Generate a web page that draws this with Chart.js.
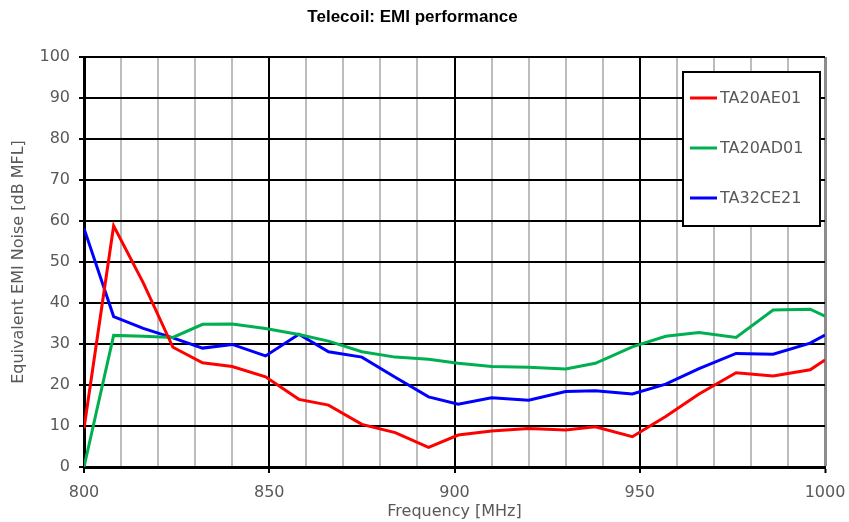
<!DOCTYPE html>
<html>
<head>
<meta charset="utf-8">
<script src="https://cdn.jsdelivr.net/npm/chart.js@4"></script>
<style>
  html, body { margin: 0; padding: 0; background: #fff; }
  #wrap { width: 849px; height: 522px; position: relative; }
</style>
</head>
<body>
<div id="wrap"><canvas id="myChart"></canvas></div>
<script>
// frequencies (MHz) where the curves were sampled
const freqs = [800, 808, 816, 824, 832, 840, 849, 858, 866, 875, 884, 893, 901, 910, 920, 930, 938, 948, 957, 966, 976, 986, 996, 1000];

const ta20ae01 = [9.4, 58.8, 44.9, 29.2, 25.4, 24.5, 22.0, 16.5, 15.1, 10.4, 8.4, 4.8, 7.8, 8.8, 9.4, 9.0, 9.8, 7.4, 12.3, 17.8, 23.0, 22.2, 23.7, 26.1];
const ta20ad01 = [0, 32.1, 31.9, 31.6, 34.8, 34.9, 33.8, 32.3, 30.7, 28.1, 26.8, 26.3, 25.3, 24.5, 24.3, 23.9, 25.3, 29.3, 31.9, 32.8, 31.6, 38.3, 38.5, 36.8];
const ta32ce21 = [58.2, 36.7, 33.8, 31.5, 29.0, 29.9, 27.1, 32.4, 28.1, 26.8, 21.9, 17.1, 15.3, 16.9, 16.3, 18.4, 18.6, 17.8, 20.2, 24.0, 27.7, 27.5, 30.2, 32.2];

const seriesNames = ['TA20AE01', 'TA20AD01', 'TA32CE21'];
const seriesColors = ['#ff0000', '#00b050', '#0000ff'];

const toPoints = (vals) => freqs.map((f, i) => ({ x: f, y: vals[i] }));

const txtFont = "'DejaVu Sans', sans-serif";
const txtColor = '#595959';

// legend box drawn inside the plot area, top right
const boxLegend = {
    id: 'boxLegend',
    afterDraw(chart) {
        const { ctx, chartArea } = chart;
        const w = 137, h = 154;
        const x0 = chartArea.right - 142;
        const y0 = chartArea.top + 15;
        ctx.save();
        ctx.fillStyle = '#fff';
        ctx.fillRect(x0, y0, w, h);
        ctx.strokeStyle = '#000';
        ctx.lineWidth = 2;
        ctx.strokeRect(x0, y0, w, h);
        ctx.font = '16px ' + txtFont;
        ctx.textBaseline = 'middle';
        chart.data.datasets.forEach((ds, i) => {
            const y = y0 + 26 + i * 50;
            ctx.strokeStyle = ds.borderColor;
            ctx.lineWidth = 3;
            ctx.beginPath();
            ctx.moveTo(x0 + 7, y);
            ctx.lineTo(x0 + 34, y);
            ctx.stroke();
            ctx.fillStyle = txtColor;
            ctx.fillText(ds.label, x0 + 37, y + 1);
        });
        ctx.restore();
    }
};

const ctx = document.getElementById('myChart');

new Chart(ctx, {
    type: 'line',
    data: {
        datasets: [ta20ae01, ta20ad01, ta32ce21].map((vals, i) => ({
            label: seriesNames[i],
            data: toPoints(vals),
            borderColor: seriesColors[i],
            backgroundColor: seriesColors[i],
            borderWidth: 3,
            pointRadius: 0,
            tension: 0,
            fill: false
        }))
    },
    options: {
        responsive: true,
        maintainAspectRatio: false,
        animation: false,
        layout: { padding: { top: 0, right: 24, bottom: 0, left: 0 } },
        plugins: {
            legend: { display: false },
            tooltip: { enabled: false },
            title: {
                display: true,
                text: 'Telecoil: EMI performance',
                color: '#000',
                font: { family: "'Liberation Sans', sans-serif", size: 17, weight: 'bold', lineHeight: 1.2 },
                padding: { top: 7, bottom: 29.6 }
            }
        },
        scales: {
            x: {
                type: 'linear',
                min: 800,
                max: 1000,
                afterFit: (scale) => {
                    scale.height = 55;
                    scale.paddingRight = 0;
                    scale.paddingLeft = 0;
                },
                ticks: {
                    stepSize: 10,
                    autoSkip: false,
                    maxRotation: 0,
                    padding: 10,
                    color: txtColor,
                    font: { family: txtFont, size: 16 },
                    callback: (v) => (v % 50 === 0 ? v : '')
                },
                grid: {
                    color: (c) => {
                        const v = c.tick ? c.tick.value : 0;
                        if (v === 1000) return '#8c8c8c';
                        return v % 50 === 0 ? '#000' : '#bdbdbd';
                    },
                    lineWidth: (c) => (c.tick && c.tick.value === 1000 ? 3 : 2),
                    tickLength: 6,
                    tickColor: (c) => (c.tick && c.tick.value % 50 === 0 ? '#000' : 'rgba(0,0,0,0)'),
                    tickWidth: 2
                },
                border: { display: true, color: '#000', width: 3 },
                title: {
                    display: true,
                    text: 'Frequency [MHz]',
                    color: txtColor,
                    font: { family: txtFont, size: 16 },
                    padding: { top: 0, bottom: 1 }
                }
            },
            y: {
                min: 0,
                max: 100,
                afterFit: (scale) => { scale.width = 84; },
                ticks: {
                    stepSize: 10,
                    padding: 9,
                    color: txtColor,
                    font: { family: txtFont, size: 16 }
                },
                grid: {
                    color: '#000',
                    lineWidth: 2,
                    tickLength: 5,
                    tickColor: '#000',
                    tickWidth: 2
                },
                border: { display: true, color: '#000', width: 3 },
                title: {
                    display: true,
                    text: 'Equivalent EMI Noise [dB MFL]',
                    color: txtColor,
                    font: { family: txtFont, size: 16 },
                    padding: { top: 9, bottom: 0 }
                }
            }
        }
    },
    plugins: [boxLegend]
});
</script>
</body>
</html>
